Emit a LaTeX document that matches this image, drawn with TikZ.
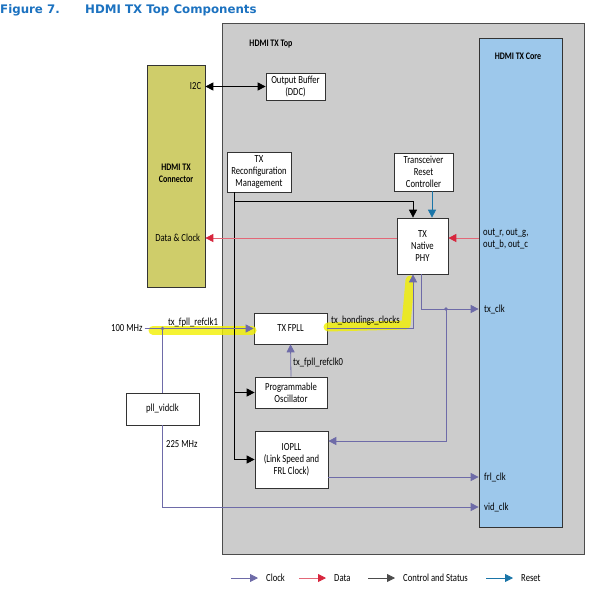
\documentclass[tikz,border=0pt]{standalone}
\usepackage{fontspec}
\setmainfont{Carlito}[FakeStretch=0.8]
\newfontfamily\titlefont{DejaVu Sans}
\usepackage{xcolor}
\usetikzlibrary{arrows.meta,positioning}

\definecolor{clkcol}{HTML}{6E6BA8}
\definecolor{datcol}{HTML}{D7263D}
\definecolor{rstcol}{HTML}{1A75A8}
\definecolor{topgray}{HTML}{CCCCCC}
\definecolor{corecol}{HTML}{9DC8EB}
\definecolor{conncol}{HTML}{CFCD6A}
\definecolor{figblue}{HTML}{1C72C0}
\definecolor{hltcol}{HTML}{F2F000}

\begin{document}
\begin{tikzpicture}[
    x=1pt, y=-1pt,
    font=\fontsize{10.8}{12}\selectfont,
    blk/.style={rectangle, draw=black!80, fill=white, line width=0.7pt, align=center, inner sep=1pt},
    lbl/.style={inner sep=1pt},
    clk/.style={draw=clkcol, line width=0.8pt, -{Triangle[length=8pt,width=8pt]}},
    dat/.style={draw=datcol!70, line width=0.8pt, -{Triangle[length=8pt,width=8pt,color=datcol]}},
    ctrl/.style={draw=black, line width=0.8pt, -{Triangle[length=8pt,width=8pt]}},
    rst/.style={draw=rstcol, line width=0.8pt, -{Triangle[length=8pt,width=8pt]}},
    hlt/.style={draw=hltcol, opacity=0.8, line width=9pt, line cap=round, line join=round}
]
\useasboundingbox (0,0) rectangle (590,591);

% Title
\node[anchor=west, inner sep=0pt, font=\titlefont\bfseries\fontsize{11.8}{13}\selectfont, text=figblue] (figno) at (0,10) {Figure 7.};
\node[anchor=west, inner sep=0pt, font=\titlefont\bfseries\fontsize{11.8}{13}\selectfont, text=figblue] (figtitle) at (85,10) {HDMI TX Top Components};

% Containers
\node[draw=black!70, fill=topgray, line width=0.8pt, minimum width=362pt, minimum height=531pt] (top) at (403,288.5) {};
\node[font=\bfseries] (toplbl) at (271,44) {HDMI TX Top};
\node[draw=black!80, fill=corecol, line width=0.7pt, minimum width=83pt, minimum height=489pt] (core) at (520.5,282.5) {};
\node[font=\bfseries] (corelbl) at (518,56) {HDMI TX Core};
\node[draw=black!80, fill=conncol, line width=0.7pt, minimum width=58pt, minimum height=222pt] (conn) at (176,176) {};
\node[font=\bfseries, align=center] (connlbl) at (176,173) {HDMI TX\\Connector};

% Blocks
\node[blk, minimum width=59pt, minimum height=27pt] (outbuf) at (295.5,86.5) {Output Buffer\\(DDC)};
\node[blk, minimum width=64pt, minimum height=40pt] (reconf) at (259,172) {TX\\Reconfiguration\\Management};
\node[blk, minimum width=59pt, minimum height=38pt] (rstctl) at (423.5,172) {Transceiver\\Reset\\Controller};
\node[blk, minimum width=51pt, minimum height=56pt] (phy) at (422.5,246) {TX\\Native\\PHY};
\node[blk, minimum width=73pt, minimum height=31pt] (fpll) at (290.5,328.5) {TX FPLL};
\node[blk, minimum width=72pt, minimum height=31pt] (osc) at (291,392.5) {Programmable\\Oscillator};
\node[blk, minimum width=73pt, minimum height=57pt] (iopll) at (291.5,459.5) {IOPLL\\(Link Speed and\\FRL Clock)};
\node[blk, minimum width=73pt, minimum height=32pt] (vidpll) at (162.5,409) {pll\_vidclk};

% Highlight
\draw[hlt] (153,330) -- (252,330);
\draw[hlt] (328,327) -- (406,325) -- (410,280);

% Bend points
\coordinate (ctl) at ([xshift=8pt]reconf.south west);
\coordinate (ctlbend) at ([yshift=-9pt]ctl);
\coordinate (phyd) at ([yshift=8pt]phy.east);
\coordinate (in100) at ([xshift=-109pt]fpll.west);
\coordinate (dot1) at (in100 -| vidpll.north);
\coordinate (vidbend) at (162.5,507);
\coordinate (txbend) at (421,309);
\coordinate (dot2) at (446,309);
\coordinate (iopin) at ([yshift=18.5pt]iopll.east);
\coordinate (frlout) at ([yshift=-17.5pt]iopll.east);

% Control and Status
\draw[ctrl, {Triangle[length=8pt,width=8pt]}-{Triangle[length=8pt,width=8pt]}] (conn.east |- outbuf.west) -- (outbuf.west);
\draw[ctrl] (ctl) |- (iopll.west);
\draw[ctrl] (ctl |- osc.west) -- (osc.west);
\draw[ctrl] (ctlbend) -| ([xshift=-9.5pt]phy.north);

% Reset
\draw[rst] ([xshift=9.5pt]phy.north |- rstctl.south) -- ([xshift=9.5pt]phy.north);

% Data
\draw[dat] (core.west |- phyd) -- (phyd);
\draw[dat] ([yshift=8pt]phy.west) -- (conn.east |- phyd);

% Clock
\draw[clk] (in100) -- (fpll.west);
\draw[draw=clkcol, line width=0.8pt] (dot1) -- (vidpll.north);
\fill[clkcol] (dot1) circle (1.8pt);
\draw[clk] (vidpll.south) -- (vidbend) -- (vidbend -| core.west);
\draw[clk] (fpll.east) -| ([xshift=-9.5pt]phy.south);
\draw[clk] (osc.north) -- (fpll.south);
\draw[clk] (txbend |- phy.south) -- (txbend) -- (txbend -| core.west);
\fill[clkcol] (dot2) circle (1.8pt);
\draw[clk] (dot2) |- (iopin);
\draw[clk] (frlout) -- (frlout -| core.west);

% Labels
\node[lbl, anchor=east] (i2c) at ([xshift=-3pt]conn.east |- outbuf.west) {I2C};
\node[lbl, anchor=east] (datclk) at ([xshift=-4pt]conn.east |- phyd) {Data \& Clock};
\node[lbl, anchor=east] (mhz100) at ([xshift=-1pt]in100) {100 MHz};
\node[lbl, anchor=south] (refclk1) at (193,328) {tx\_fpll\_refclk1};
\node[lbl, anchor=south west] (bondclk) at (330,327) {tx\_bondings\_clocks};
\node[lbl, anchor=west] (refclk0) at (292,363) {tx\_fpll\_refclk0};
\node[lbl, anchor=west] (mhz225) at (165,444) {225 MHz};
\node[lbl, anchor=west, align=left] (outrgb) at (482,239) {out\_r, out\_g,\\out\_b, out\_c};
\node[lbl, anchor=west] (txclk) at (483,309) {tx\_clk};
\node[lbl, anchor=west] (frlclk) at (483,477) {frl\_clk};
\node[lbl, anchor=west] (vidclk) at (483,507) {vid\_clk};

% Legend
\node[lbl, anchor=west] (lgclk) at (265,578) {Clock};
\node[lbl, anchor=west] (lgdat) at (333,578) {Data};
\node[lbl, anchor=west] (lgctl) at (402,578) {Control and Status};
\node[lbl, anchor=west] (lgrst) at (520,578) {Reset};
\draw[clk] ([xshift=-34pt]lgclk.west) -- ([xshift=-7pt]lgclk.west);
\draw[dat] ([xshift=-34pt]lgdat.west) -- ([xshift=-7pt]lgdat.west);
\draw[ctrl, draw=black!70] ([xshift=-34pt]lgctl.west) -- ([xshift=-7pt]lgctl.west);
\draw[rst] ([xshift=-34pt]lgrst.west) -- ([xshift=-7pt]lgrst.west);

\end{tikzpicture}
\end{document}
